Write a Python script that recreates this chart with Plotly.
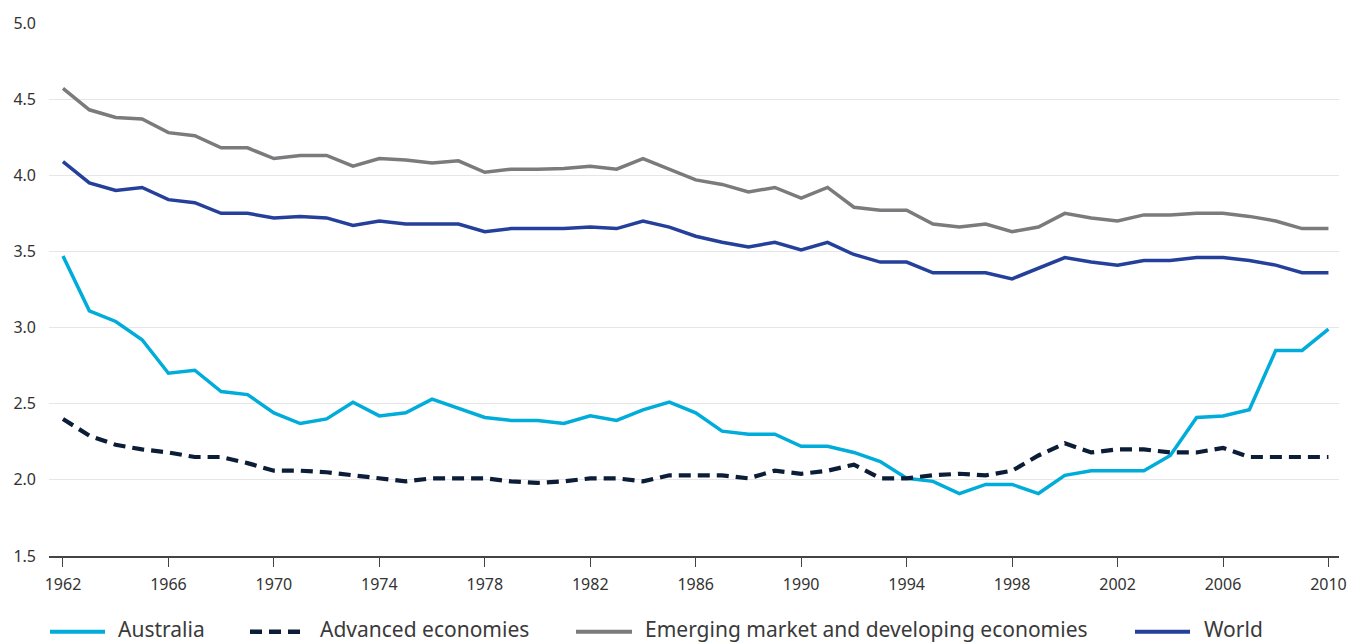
import plotly.graph_objects as go

years = list(range(1962, 2011))

australia = [3.47, 3.11, 3.04, 2.92, 2.70, 2.72, 2.58, 2.56, 2.44, 2.37,
             2.40, 2.51, 2.42, 2.44, 2.53, 2.47, 2.41, 2.39, 2.39, 2.37,
             2.42, 2.39, 2.46, 2.51, 2.44, 2.32, 2.30, 2.30, 2.22, 2.22,
             2.18, 2.12, 2.01, 1.99, 1.91, 1.97, 1.97, 1.91, 2.03, 2.06,
             2.06, 2.06, 2.16, 2.41, 2.42, 2.46, 2.85, 2.85, 2.99]

advanced = [2.40, 2.29, 2.23, 2.20, 2.18, 2.15, 2.15, 2.11, 2.06, 2.06,
            2.05, 2.03, 2.01, 1.99, 2.01, 2.01, 2.01, 1.99, 1.98, 1.99,
            2.01, 2.01, 1.99, 2.03, 2.03, 2.03, 2.01, 2.06, 2.04, 2.06,
            2.10, 2.01, 2.01, 2.03, 2.04, 2.03, 2.06, 2.16, 2.24, 2.18,
            2.20, 2.20, 2.18, 2.18, 2.21, 2.15, 2.15, 2.15, 2.15]

emerging = [4.57, 4.43, 4.38, 4.37, 4.28, 4.26, 4.18, 4.18, 4.11, 4.13,
            4.13, 4.06, 4.11, 4.10, 4.08, 4.095, 4.02, 4.04, 4.04, 4.045,
            4.06, 4.04, 4.11, 4.04, 3.97, 3.94, 3.89, 3.92, 3.85, 3.92,
            3.79, 3.77, 3.77, 3.68, 3.66, 3.68, 3.63, 3.66, 3.75, 3.72,
            3.70, 3.74, 3.74, 3.75, 3.75, 3.73, 3.70, 3.65, 3.65]

world = [4.09, 3.95, 3.90, 3.92, 3.84, 3.82, 3.75, 3.75, 3.72, 3.73,
         3.72, 3.67, 3.70, 3.68, 3.68, 3.68, 3.63, 3.65, 3.65, 3.65,
         3.66, 3.65, 3.70, 3.66, 3.60, 3.56, 3.53, 3.56, 3.51, 3.56,
         3.48, 3.43, 3.43, 3.36, 3.36, 3.36, 3.32, 3.39, 3.46, 3.43,
         3.41, 3.44, 3.44, 3.46, 3.46, 3.44, 3.41, 3.36, 3.36]

x_ticks = list(range(1962, 2011, 4))

series = [
    ("Australia", australia, "#00acd9", "solid", 3.5),
    ("Advanced economies", advanced, "#0c1d38", "12px,7px", 4.2),
    ("Emerging market and developing economies", emerging, "#7b7b7e", "solid", 3.5),
    ("World", world, "#24409a", "solid", 3.5),
]

W, H = 1365, 644
ML, MR, MT, MB = 49, 26, 21, 88
PW, PH = W - ML - MR, H - MT - MB


def px_x(p):
    return (p - ML) / PW


def px_y(p):
    return (H - MB - p) / PH


fig = go.Figure()
for name, vals, color, dash, width in series:
    fig.add_trace(go.Scatter(
        x=years, y=vals, mode="lines", name=name,
        line=dict(color=color, width=width, dash=dash),
        showlegend=False,
    ))

# manual legend (swatches + labels)
legend_items = [
    (50, 105, 118),
    (250, 307, 320),
    (576, 632, 645),
    (1135, 1190, 1204),
]
ly = px_y(632)
shapes = []
annotations = []
for (x0, x1, xt), (name, vals, color, dash, width) in zip(legend_items, series):
    shapes.append(dict(
        type="line", xref="paper", yref="paper",
        x0=px_x(x0), x1=px_x(x1), y0=ly, y1=ly,
        line=dict(color=color, width=4 if dash == "solid" else 4.5,
                  dash=dash),
    ))
    annotations.append(dict(
        text=name, xref="paper", yref="paper",
        x=px_x(xt - 2), y=px_y(629), xanchor="left", yanchor="middle",
        showarrow=False, font=dict(size=21, color="#3a3a3a", family="Noto Sans"),
    ))

fig.update_layout(
    width=W, height=H,
    margin=dict(l=ML, r=MR, t=MT, b=MB),
    paper_bgcolor="white", plot_bgcolor="white",
    font=dict(family="Noto Sans", size=15, color="#333333"),
    shapes=shapes, annotations=annotations,
    showlegend=False,
)
fig.update_xaxes(
    range=[1961.47, 2010.4], tickvals=x_ticks,
    ticks="outside", ticklen=9, tickwidth=1.2, tickcolor="#444444",
    showline=True, linecolor="#444444", linewidth=1.5,
    showgrid=False, zeroline=False, ticklabelstandoff=4,
    tickfont=dict(size=16, color="#333333"),
)
fig.update_yaxes(
    range=[1.5, 5.0], dtick=0.5, tickformat=".1f",
    showgrid=True, gridcolor="#e6e6e6", gridwidth=1,
    zeroline=False, showline=False, ticks="",
    ticklabelstandoff=12,
    tickfont=dict(size=16, color="#333333"),
)

fig.write_html(
    "out.html",
    config={"displayModeBar": False},
    post_script="document.body.style.margin='0';document.body.style.overflow='hidden';",
)
